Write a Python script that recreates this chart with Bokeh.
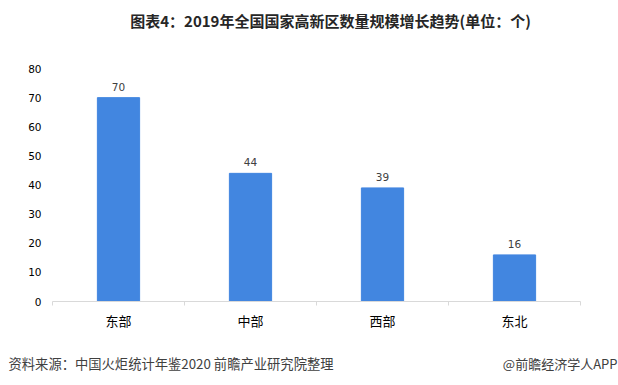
from bokeh.plotting import figure
from bokeh.layouts import column
from bokeh.models import ColumnDataSource, FixedTicker, LabelSet
from bokeh.core.properties import value
from bokeh.embed import file_html
from bokeh.resources import INLINE

categories = ["东部", "中部", "西部", "东北"]
values = [70, 44, 39, 16]
y_ticks = [0, 10, 20, 30, 40, 50, 60, 70, 80]
title_text = "图表4：2019年全国国家高新区数量规模增长趋势(单位：个)"
source_text = "资料来源：中国火炬统计年鉴2020 前瞻产业研究院整理"
brand_text = "@前瞻经济学人APP"

xs = [i + 0.5 for i in range(len(categories))]
src = ColumnDataSource(dict(x=xs, top=values, label=[str(v) for v in values]))

CJK = "Noto Sans CJK SC"
NUM = "DejaVu Sans"
W = 618


def blank(h):
    fig = figure(width=W, height=h, output_backend="svg", toolbar_location=None,
                 x_range=(0, W), y_range=(0, h), min_border=0)
    fig.axis.visible = False
    fig.grid.visible = False
    fig.outline_line_color = None
    fig.frame_align = False
    return fig


# header
hd = blank(40)
hd.text(x=[330], y=[20], text=[title_text], text_font=value(CJK), text_font_size="15px",
        text_font_style="bold", text_color="#262626", text_baseline="middle", text_align="center")

p = figure(width=W, height=292, output_backend="svg", toolbar_location=None,
           x_range=(0, len(categories)), y_range=(0, 80),
           min_border_left=52, min_border_right=38, min_border_top=28, min_border_bottom=30)
p.frame_align = False
p.outline_line_color = None
p.background_fill_color = "white"
p.border_fill_color = "white"

p.vbar(x="x", top="top", width=0.32, color="#4286E0", source=src)
p.add_layout(LabelSet(x="x", y="top", text="label", source=src, y_offset=7,
                      text_align="center", text_baseline="bottom",
                      text_font_size="10.5px", text_color="#404040",
                      text_font=value(NUM)))

p.xgrid.visible = False
p.ygrid.visible = False

xa = p.xaxis[0]
xa.ticker = FixedTicker(ticks=xs, minor_ticks=list(range(len(categories) + 1)))
xa.major_label_overrides = {x: c for x, c in zip(xs, categories)}
xa.major_tick_line_color = None
xa.minor_tick_line_color = "#d9d9d9"
xa.minor_tick_out = 4
xa.minor_tick_in = 0
xa.axis_line_color = "#d9d9d9"
xa.major_label_text_font = CJK
xa.major_label_text_font_size = "13px"
xa.major_label_text_color = "#000000"
xa.major_label_standoff = 3

ya = p.yaxis[0]
ya.ticker = FixedTicker(ticks=y_ticks)
ya.axis_line_color = None
ya.major_tick_line_color = None
ya.minor_tick_line_color = None
ya.major_label_text_font = NUM
ya.major_label_text_font_size = "10.5px"
ya.major_label_text_color = "#000000"
ya.major_label_standoff = 5

# footer
f = blank(53)
f.text(x=[8], y=[22], text=[source_text], text_font=value(CJK), text_font_size="13.3px",
       text_color="#404040", text_baseline="middle", text_align="left")
f.text(x=[617], y=[22], text=[brand_text], text_font=value(CJK), text_font_size="13px",
       text_color="#404040", text_baseline="middle", text_align="right")

open("out.html", "w").write(file_html(column(hd, p, f, spacing=0), INLINE))
